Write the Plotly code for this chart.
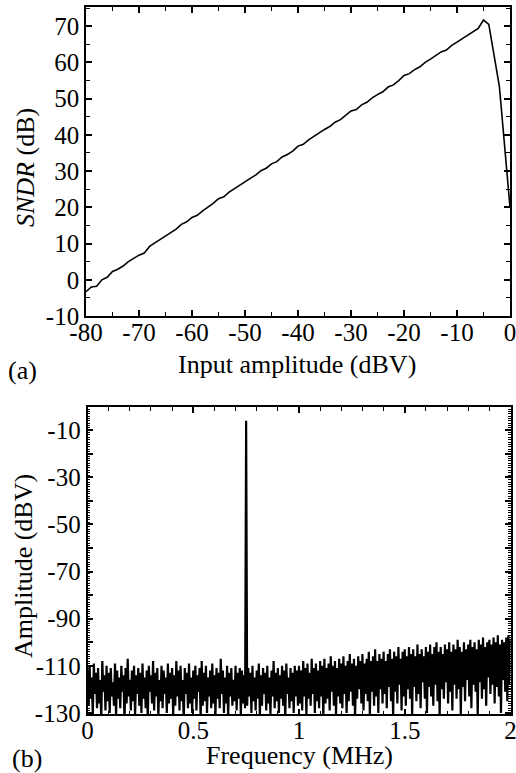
import numpy as np
import plotly.graph_objects as go

# ---------------- data: (a) SNDR vs input amplitude ----------------
input_amp = [-80, -79, -78, -77, -76, -75, -74, -73, -72, -71,
             -70, -69, -68, -67, -66, -65, -64, -63, -62, -61,
             -60, -59, -58, -57, -56, -55, -54, -53, -52, -51,
             -50, -49, -48, -47, -46, -45, -44, -43, -42, -41,
             -40, -39, -38, -37, -36, -35, -34, -33, -32, -31,
             -30, -29, -28, -27, -26, -25, -24, -23, -22, -21,
             -20, -19, -18, -17, -16, -15, -14, -13, -12, -11,
             -10, -9, -8, -7, -6, -5, -4, -2, 0]
sndr = [-3.3, -2.0, -1.8, 0.0, 0.7, 2.3, 2.9, 3.8, 5.0, 5.9,
        6.8, 7.4, 9.2, 10.2, 11.2, 12.2, 13.1, 14.0, 15.3, 16.0,
        17.2, 17.8, 19.0, 20.0, 21.1, 22.4, 22.9, 24.2, 25.2, 26.0,
        27.2, 28.0, 28.9, 30.1, 30.8, 32.0, 32.6, 33.9, 34.6, 35.5,
        36.9, 37.4, 38.6, 39.6, 40.5, 41.5, 42.3, 43.5, 44.2, 45.3,
        46.6, 47.0, 48.3, 49.0, 50.2, 51.1, 51.9, 53.2, 53.8, 55.0,
        56.4, 56.9, 58.0, 58.8, 60.0, 60.9, 61.8, 62.9, 63.4, 64.7,
        65.6, 66.6, 67.4, 68.5, 69.4, 71.7, 70.5, 53.3, 20.0]

# ---------------- data: (b) output spectrum ----------------
freq_start_mhz = 0.0
freq_stop_mhz = 2.0
spectrum_dbv = [
    -112, -127, -110, -124, -115, -131, -109, -122, -113, -128, -111, -126, -116, -133, -108, -121, -114, -129, -110, -125,
    -113, -130, -111, -123, -117, -127, -109, -132, -112, -124, -115, -128, -110, -121, -114, -134, -111, -126, -107, -123,
    -116, -129, -112, -125, -110, -131, -114, -122, -111, -127, -113, -130, -109, -124, -115, -128, -112, -133, -110, -121,
    -114, -126, -108, -129, -113, -123, -111, -132, -116, -125, -110, -128, -112, -122, -115, -130, -109, -126, -113, -124,
    -111, -131, -114, -127, -108, -123, -112, -129, -110, -125, -116, -134, -111, -122, -113, -128, -109, -126, -115, -130,
    -112, -124, -110, -129, -114, -121, -111, -133, -108, -127, -113, -125, -110, -130, -115, -123, -112, -128, -109, -126,
    -114, -131, -111, -124, -113, -128, -107, -122, -112, -130, -115, -126, -110, -132, -113, -123, -111, -127, -116, -125,
    -110, -129, -113, -124, -111, -131, -112, -126, -114, -128, -6, -127, -111, -123, -113, -130, -110, -125, -115, -129,
    -112, -124, -109, -132, -114, -127, -111, -122, -113, -129, -110, -126, -115, -131, -112, -123, -108, -128, -113, -125,
    -111, -130, -114, -124, -110, -127, -112, -133, -109, -122, -115, -128, -111, -125, -113, -130, -110, -123, -112, -127,
    -110, -126, -112, -129, -108, -123, -111, -131, -109, -124, -113, -127, -107, -122, -111, -130, -109, -125, -112, -128,
    -108, -123, -110, -132, -107, -126, -111, -124, -109, -129, -106, -121, -110, -127, -108, -131, -111, -123, -107, -126,
    -109, -128, -106, -122, -110, -130, -108, -125, -105, -121, -109, -127, -107, -133, -110, -124, -106, -120, -108, -126,
    -105, -129, -109, -122, -107, -125, -104, -131, -108, -121, -106, -127, -103, -123, -108, -130, -105, -120, -107, -126,
    -104, -122, -108, -128, -105, -119, -103, -125, -107, -132, -104, -121, -106, -126, -102, -118, -107, -129, -104, -123,
    -103, -127, -106, -120, -102, -124, -105, -131, -103, -119, -106, -125, -101, -122, -105, -128, -103, -117, -106, -124,
    -102, -130, -104, -119, -101, -123, -105, -127, -102, -118, -100, -125, -104, -132, -102, -120, -105, -124, -101, -117,
    -103, -126, -100, -121, -104, -129, -101, -118, -103, -124, -99, -120, -102, -131, -104, -119, -100, -125, -103, -116,
    -101, -123, -99, -128, -102, -118, -100, -121, -103, -132, -99, -117, -101, -124, -98, -120, -102, -127, -100, -115,
    -99, -122, -101, -118, -98, -126, -100, -119, -97, -123, -101, -130, -99, -116, -100, -121, -98, -125, -97, -118,
    -99,
]
freq_mhz = np.linspace(freq_start_mhz, freq_stop_mhz, len(spectrum_dbv))

# ---------------- tick labels ----------------
a_xticks = [-80, -70, -60, -50, -40, -30, -20, -10, 0]
a_xlabels = ["-80", "-70", "-60", "-50", "-40", "-30", "-20", "-10", "0"]
a_yticks = [-10, 0, 10, 20, 30, 40, 50, 60, 70]
a_ylabels = ["-10", "0", "10", "20", "30", "40", "50", "60", "70"]
b_xticks = [0, 0.5, 1, 1.5, 2]
b_xlabels = ["0", "0.5", "1", "1.5", "2"]
b_yticks = [-130, -120, -110, -100, -90, -80, -70, -60, -50, -40, -30, -20, -10]
b_ylabels = ["-130", "", "-110", "", "-90", "", "-70", "", "-50", "", "-30", "", "-10"]

FONT = "Liberation Serif"
W, H = 516, 773

fig = go.Figure()
fig.add_trace(go.Scatter(x=input_amp, y=sndr, mode="lines",
                         line=dict(color="black", width=1.6),
                         xaxis="x", yaxis="y", showlegend=False))
fig.add_trace(go.Scatter(x=freq_mhz, y=spectrum_dbv, mode="lines",
                         line=dict(color="black", width=2.2),
                         xaxis="x2", yaxis="y2", showlegend=False))

def px_x(p):
    return p / W

def px_y(p):
    return 1 - p / H

axis_common = dict(showline=True, linecolor="black", linewidth=1.6, mirror="allticks",
                   ticks="inside", tickcolor="black", tickwidth=1.5, showgrid=False,
                   zeroline=False, automargin=False, ticklabeloverflow="allow",
                   tickfont=dict(family=FONT, size=25, color="black"))

fig.update_layout(
    template="none",
    width=W, height=H, margin=dict(l=0, r=0, t=0, b=0, pad=0),
    paper_bgcolor="white", plot_bgcolor="white",
    font=dict(family=FONT, size=25, color="black"),
    xaxis=dict(domain=[px_x(86), px_x(510)], anchor="y", range=[-80, 0],
               tickmode="array", tickvals=a_xticks, ticktext=a_xlabels, ticklen=6,
               ticklabelstandoff=-7,
               minor=dict(dtick=5, ticks="inside", ticklen=4, tickcolor="black", tickwidth=1.2),
               **axis_common),
    yaxis=dict(domain=[px_y(316), px_y(7)], anchor="x", range=[-10, 75.3],
               tickmode="array", tickvals=a_yticks, ticktext=a_ylabels, ticklen=6,
               minor=dict(dtick=5, ticks="inside", ticklen=4, tickcolor="black", tickwidth=1.2),
               **axis_common),
    xaxis2=dict(domain=[px_x(87.5), px_x(510.5)], anchor="y2", range=[0, 2],
                tickmode="array", tickvals=b_xticks, ticktext=b_xlabels, ticklen=6,
                ticklabelstandoff=-7,
                minor=dict(dtick=0.1, ticks="inside", ticklen=4, tickcolor="black", tickwidth=1.2),
                **axis_common),
    yaxis2=dict(domain=[px_y(714.3), px_y(406.7)], anchor="x2", range=[-130.6, 0],
                tickmode="array", tickvals=b_yticks, ticktext=b_ylabels, ticklen=6,
                minor=dict(dtick=1, ticks="inside", ticklen=3, tickcolor="black", tickwidth=1),
                **axis_common),
)

ann = [
    dict(text="<i>SNDR</i> (dB)", x=px_x(25), y=px_y(168), textangle=-90),
    dict(text="Input amplitude (dBV)", x=px_x(297), y=px_y(364), textangle=0),
    dict(text="(a)", x=px_x(22), y=px_y(371), textangle=0),
    dict(text="Amplitude (dBV)", x=px_x(23), y=px_y(566), textangle=-90),
    dict(text="Frequency (MHz)", x=px_x(299), y=px_y(755), textangle=0),
    dict(text="(b)", x=px_x(27), y=px_y(758), textangle=0),
]
for a in ann:
    fig.add_annotation(xref="paper", yref="paper", showarrow=False,
                       xanchor="center", yanchor="middle",
                       font=dict(family=FONT, size=26, color="black"), **a)

fig.write_html("out.html",
               config={"displayModeBar": False},
               post_script="document.body.style.margin='0';document.body.style.padding='0';"
                           "document.body.style.overflow='hidden';")
